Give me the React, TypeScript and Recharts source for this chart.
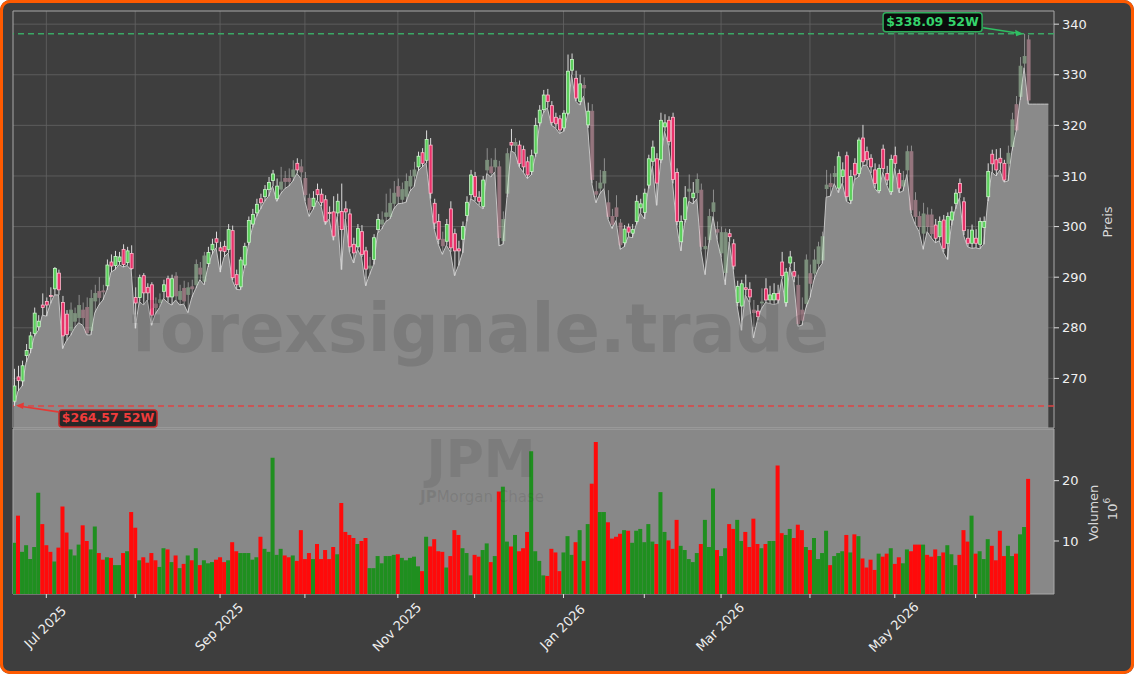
import React from 'react';
import {
  ComposedChart, Bar, Area, XAxis, YAxis, CartesianGrid,
  ReferenceLine, ReferenceArea, ReferenceDot, Cell,
} from 'recharts';

// ---- data (trading-day index 0 = 18 Jun 2025) ----
const openP = [
  265.5,270.3,269.5,274.5,275.9,278.9,280.2,284.5,285.2,286.4,
  287.7,290.8,285.0,282.7,279.5,281.3,282.0,283.5,284.0,279.5,
  285.3,287.2,287.3,288.3,293.0,292.3,293.1,295.5,292.9,294.7,
  286.0,286.0,290.3,288.0,288.5,284.7,285.0,287.2,289.7,286.1,
  290.2,285.6,287.8,286.6,288.1,288.5,291.8,289.2,292.7,295.4,
  297.6,295.8,296.1,295.5,299.2,290.5,288.1,292.4,296.9,300.5,
  302.7,305.5,305.9,307.3,309.1,305.5,307.4,309.5,309.5,309.9,
  312.5,311.8,309.5,305.6,304.0,307.3,306.4,305.3,302.8,302.9,
  302.7,303.0,303.5,302.5,296.5,296.0,299.0,295.2,291.8,293.5,
  299.4,300.5,302.0,302.0,304.6,307.9,305.4,306.0,308.0,310.0,
  311.8,314.6,313.1,316.1,304.6,301.0,297.5,297.1,303.5,298.6,
  295.6,297.5,302.2,306.3,309.9,305.8,304.0,311.2,311.8,311.8,
  311.8,297.2,306.6,316.6,316.0,316.1,315.2,312.8,310.9,314.5,
  320.5,323.1,326.0,323.9,321.6,321.3,319.5,322.4,330.9,329.3,
  324.7,327.9,320.1,322.8,306.9,307.6,308.6,304.7,302.0,303.7,
  300.7,296.8,299.9,298.7,301.0,303.7,302.8,308.2,312.9,313.4,
  313.2,319.7,321.0,321.6,310.7,297.0,301.4,307.0,305.7,306.7,
  307.2,295.6,297.4,303.0,299.4,294.8,290.9,298.6,296.6,285.0,
  284.3,287.9,287.6,283.5,283.3,284.9,287.7,285.5,285.5,286.8,
  293.0,285.0,292.8,291.1,288.4,283.5,284.8,290.7,290.8,292.7,
  293.4,307.5,308.5,309.9,307.6,309.9,314.0,305.2,312.5,310.5,
  317.5,314.8,313.5,311.2,307.1,315.3,310.5,306.9,314.0,310.5,
  308.0,311.2,314.8,305.2,302.0,298.7,302.3,302.3,300.3,298.0,
  301.3,296.7,301.3,304.6,308.5,304.9,297.7,296.7,297.7,296.5,
  299.8,305.9,314.3,313.2,313.5,312.5,312.5,315.8,324.1,325.7,
  332.3,336.9,
];
const highP = [
  271.9,272.5,273.5,276.8,279.2,284.0,282.5,286.8,286.0,288.0,
  292.0,291.5,286.3,283.5,285.0,284.0,286.5,285.0,286.0,287.5,
  288.5,290.0,288.5,293.5,294.5,295.2,295.0,296.5,296.0,296.3,
  288.0,290.5,290.8,288.8,289.0,286.0,286.8,289.5,290.3,290.5,
  291.0,288.5,289.3,289.0,289.5,293.5,293.0,295.0,296.0,297.6,
  299.0,297.0,297.2,300.5,300.2,291.5,294.0,296.8,302.0,303.5,
  305.5,306.5,308.2,309.8,311.2,309.5,311.8,311.0,311.5,313.1,
  313.5,313.3,310.8,306.5,307.0,308.5,307.5,306.2,304.0,306.0,
  306.5,308.5,305.0,303.5,297.8,300.5,300.3,296.0,294.0,298.5,
  302.5,303.0,306.5,307.5,309.0,309.5,308.7,310.5,311.2,312.8,
  314.8,315.5,319.0,317.5,305.5,302.5,299.0,301.5,305.0,299.6,
  297.2,301.0,306.0,311.2,310.8,307.0,310.0,315.5,313.5,315.5,
  313.0,303.0,315.5,319.3,317.5,317.0,316.0,313.8,315.2,321.5,
  324.0,327.0,327.2,324.8,322.5,322.0,323.0,334.0,334.2,330.8,
  330.0,329.5,324.5,324.2,309.0,311.2,313.5,307.2,303.5,306.2,
  301.5,300.3,300.6,300.5,306.2,305.5,307.5,314.2,317.0,314.5,
  322.5,322.2,321.8,322.5,311.5,302.2,308.0,310.3,308.8,310.5,
  308.5,298.0,303.5,307.3,301.0,300.0,299.6,299.5,297.5,289.3,
  289.5,290.5,289.0,285.5,284.5,287.8,289.8,288.3,288.8,288.5,
  295.0,291.8,295.2,293.0,290.5,286.0,294.5,292.5,295.5,297.0,
  299.0,311.2,310.5,312.0,314.8,312.7,314.8,311.2,313.5,317.6,
  320.1,315.8,314.3,312.5,312.3,316.2,312.0,314.2,315.8,311.3,
  311.0,316.0,316.0,306.8,303.0,304.7,303.8,303.5,301.5,302.0,
  302.3,302.8,304.0,307.4,309.5,305.8,299.5,300.4,299.5,301.8,
  302.0,312.5,315.2,315.3,315.5,313.2,316.0,322.5,325.8,333.5,
  338.09,337.9,
];
const lowP = [
  264.57,267.5,268.5,273.2,275.0,278.3,279.5,282.5,282.3,284.8,
  286.5,286.5,275.9,277.5,278.5,280.0,281.0,280.5,278.6,278.6,
  283.0,284.5,285.5,287.5,291.0,291.5,292.5,292.0,292.3,291.4,
  279.9,285.2,284.5,285.5,280.5,282.8,284.0,285.8,285.0,284.5,
  285.5,284.5,284.7,283.0,286.0,287.8,289.5,288.5,292.0,294.5,
  295.8,291.0,294.0,294.8,289.4,287.6,287.5,291.8,296.3,299.8,
  302.0,303.5,305.0,306.0,308.0,305.0,306.5,307.5,308.0,309.0,
  310.5,309.5,305.0,302.0,303.4,305.2,304.0,300.4,301.5,297.3,
  302.0,291.5,301.5,295.0,292.8,295.5,294.0,288.3,290.5,292.5,
  298.8,299.5,301.0,301.5,303.5,304.5,304.6,304.8,307.0,307.9,
  311.0,311.8,312.5,305.5,299.5,296.5,294.5,296.3,295.0,290.3,
  292.3,294.8,301.0,305.5,305.0,304.2,303.5,310.5,309.8,310.8,
  296.2,296.5,305.8,315.0,314.5,311.8,310.8,309.5,310.2,313.8,
  319.8,322.5,323.5,320.0,319.5,318.4,318.8,322.0,330.0,324.8,
  324.0,325.8,319.5,308.5,304.7,306.5,307.5,301.5,299.6,301.2,
  295.5,296.0,298.0,297.8,300.4,302.7,301.5,307.5,312.0,304.2,
  312.5,318.8,316.0,308.5,300.2,295.2,300.8,305.0,304.5,305.5,
  295.4,290.5,296.8,302.0,297.4,294.0,288.5,297.0,291.5,284.2,
  279.5,286.5,285.0,278.0,281.5,283.8,285.0,284.8,284.6,284.8,
  289.6,284.2,292.0,289.0,280.3,280.5,284.0,286.0,289.5,291.5,
  292.7,305.8,306.0,308.5,306.7,308.6,305.0,304.5,309.3,309.8,
  312.0,312.2,310.6,307.6,306.6,310.7,308.2,306.3,311.5,306.7,
  307.0,310.3,302.6,300.5,299.0,295.5,299.0,297.8,296.8,297.2,
  294.9,293.5,300.2,303.5,305.7,298.3,296.0,295.7,295.8,295.6,
  296.5,305.0,310.8,310.0,311.2,308.8,309.0,315.0,318.8,325.0,
  331.4,324.2,
];
const closeP = [
  268.5,269.6,272.5,275.5,278.4,282.9,281.3,284.0,284.5,286.2,
  291.7,287.5,278.4,278.7,283.5,282.8,284.4,282.0,279.0,285.8,
  286.8,286.0,287.1,292.4,292.2,294.1,294.0,292.5,295.2,291.7,
  284.9,289.9,286.9,286.9,282.5,284.0,285.5,288.5,286.1,289.7,
  286.3,287.2,285.3,287.9,287.7,292.5,290.6,294.2,294.9,296.5,
  296.9,295.2,295.1,299.4,289.9,288.5,293.4,296.1,301.2,302.4,
  304.4,304.7,307.3,308.7,310.4,308.0,308.8,308.9,308.9,311.2,
  311.2,310.8,306.3,303.3,305.6,306.3,304.8,301.0,302.6,298.1,
  305.0,299.4,302.9,296.0,294.8,299.6,294.5,291.6,292.2,297.8,
  301.4,301.3,302.7,304.6,306.6,306.0,307.3,308.9,309.9,311.2,
  313.9,312.5,317.2,306.6,300.7,297.5,296.2,300.4,295.8,295.2,
  295.2,300.0,304.8,310.2,305.9,305.0,309.2,313.1,310.6,313.1,
  297.8,301.4,314.4,316.1,316.6,312.5,311.8,310.2,314.0,320.0,
  323.0,326.0,324.7,320.6,320.3,319.1,322.4,330.7,333.0,325.4,
  328.2,327.4,322.8,309.3,306.4,308.6,310.9,302.0,300.4,302.0,
  296.4,299.5,298.9,299.4,305.0,304.5,306.6,313.4,315.7,308.6,
  321.0,320.5,316.8,309.3,301.0,301.0,305.7,307.4,306.6,309.3,
  296.1,296.1,302.0,304.7,298.9,298.8,298.8,298.0,292.2,288.2,
  288.7,287.6,286.1,283.0,282.2,285.1,285.5,286.5,286.8,285.5,
  290.3,291.0,294.0,290.2,280.8,281.5,293.4,288.8,293.4,296.0,
  298.0,308.2,307.9,310.5,313.8,311.2,305.9,309.9,310.2,317.1,
  312.8,313.2,311.8,308.5,311.5,311.5,309.2,313.3,312.5,307.6,
  309.1,314.8,303.3,302.0,300.0,302.5,300.0,298.6,297.7,301.0,
  295.7,302.0,302.9,306.6,306.7,299.2,296.7,299.3,296.7,301.0,
  301.0,310.9,312.4,311.2,312.6,309.2,314.5,321.1,319.1,331.7,
  333.6,325.0,
];
const volume = [
  9.7,14.2,8.2,9.3,7.0,9.0,18.0,12.8,9.3,8.2,
  6.6,8.9,15.7,11.4,8.6,7.6,9.4,12.6,10.0,8.6,
  12.4,8.0,6.9,7.3,7.2,6.0,6.0,8.0,8.3,14.8,
  12.2,6.8,7.3,6.4,8.0,6.8,5.7,8.8,8.6,6.5,
  7.6,5.5,6.2,7.6,6.8,8.8,6.0,6.8,6.3,6.5,
  6.9,7.3,6.5,6.8,9.8,8.3,8.0,8.0,8.0,6.9,
  7.3,10.7,8.7,8.2,23.8,7.7,8.7,7.6,7.3,7.6,
  6.7,11.8,7.0,8.0,7.0,9.5,7.0,8.5,7.0,9.0,
  7.8,16.3,11.5,11.0,10.5,9.5,10.0,10.5,5.5,5.5,
  7.5,6.3,7.5,7.5,7.7,7.8,7.2,6.8,7.2,7.4,
  5.8,5.0,10.7,9.1,10.3,8.3,8.2,5.6,7.5,11.8,
  11.0,8.8,8.0,4.3,7.7,7.4,8.5,9.6,6.5,7.5,
  18.2,19.0,9.9,9.1,11.0,8.3,8.8,11.5,24.9,8.3,
  6.7,4.3,4.2,8.7,8.1,5.0,8.1,10.8,7.7,9.8,
  11.8,6.7,12.8,19.5,26.4,14.8,14.8,13.1,10.4,10.7,
  11.2,11.8,11.7,9.7,11.7,12.0,9.8,12.8,9.9,9.5,
  18.1,11.5,10.1,8.7,13.5,9.2,8.5,7.0,6.5,8.0,
  9.5,13.5,9.0,18.7,8.5,7.5,8.8,12.8,12.0,13.5,
  10.0,11.5,9.0,13.7,9.5,8.8,9.5,10.0,10.0,22.5,
  11.3,11.0,12.0,10.5,12.7,11.8,9.0,8.5,10.5,7.0,
  8.0,11.7,6.0,7.5,8.0,8.3,11.0,8.1,11.1,10.8,
  7.1,5.6,6.9,5.2,7.9,7.4,7.9,8.8,6.2,7.3,
  6.3,8.6,8.3,9.4,9.4,9.4,7.7,7.4,8.6,7.5,
  8.1,9.3,7.8,6.0,7.7,11.8,9.9,14.2,7.9,8.3,
  7.0,10.3,9.2,6.8,11.7,7.5,9.2,7.5,7.9,11.1,
  12.3,20.3,
];
// candles drawn pale in the reference
const faintDays = [
  14,15,16,17,18,19,20,21,22,35,36,40,41,42,43,44,45,46,47,66,67,68,69,71,72,73,88,
  91,92,93,94,95,96,97,98,99,106,117,118,119,120,121,122,124,141,143,144,145,146,147,
  148,149,150,167,169,170,171,172,173,174,175,176,183,185,194,195,196,197,198,199,200,
  201,202,203,220,221,222,223,224,225,226,227,246,247,248,249,250,251,
];
const areaTail = [324.2, 324.2, 324.2, 324.2, 324.2];
const monthTicks = [8, 30, 51, 72, 95, 114, 136, 156, 175, 197, 218, 238];
const monthLabels = ['Jul 2025','Aug 2025','Sep 2025','Oct 2025','Nov 2025','Dec 2025',
  'Jan 2026','Feb 2026','Mar 2026','Apr 2026','May 2026','Jun 2026'];
const priceTicks = [270, 280, 290, 300, 310, 320, 330, 340];
const volumeTicks = [10, 20];
const high52 = 338.09;
const low52 = 264.57;

// ---- derived tables ----
const xDomain: [number, number] = [-0.25, 257.4];
const priceDomain: [number, number] = [260.2, 342.6];
const volDomain: [number, number] = [1.21, 28.57];

const priceRows: any[] = openP.map((o, i) => ({
  i, o, h: highP[i], l: lowP[i], c: closeP[i],
  range: [lowP[i], highP[i]], area: lowP[i], faint: faintDays.includes(i),
}));
areaTail.forEach((v, k) => priceRows.push({ i: openP.length + k, area: v }));
const volRows = volume.map((v, i) => ({ i, v, up: closeP[i] >= openP[i] }));
const hiIdx = highP.indexOf(Math.max(...highP));
const loIdx = lowP.indexOf(Math.min(...lowP));

const FONT = 'DejaVu Sans, Verdana, sans-serif';

const Candle = (props: any) => {
  const { x, y, width, height, payload } = props;
  if (!payload || payload.o == null || !isFinite(x) || !isFinite(y)) return null;
  const { o, h, l, c, faint } = payload;
  const top = Math.min(y, y + height);
  const hpx = Math.abs(height);
  const ppu = hpx / Math.max(h - l, 0.0001);
  const yO = top + (h - o) * ppu;
  const yC = top + (h - c) * ppu;
  const up = c >= o;
  const bTop = Math.min(yO, yC);
  const bH = Math.max(Math.abs(yO - yC), 1);
  const cx = x + width / 2;
  const fill = up ? '#5ccf5c' : '#e8326a';
  const edge = up ? '#c8f5c8' : '#ffb8cb';
  return (
    <g opacity={faint ? 0.45 : 1}>
      <line x1={cx} x2={cx} y1={top} y2={top + hpx} stroke={faint ? '#f0f0f0' : '#dcdcdc'} strokeWidth={1} />
      <rect x={x} y={bTop} width={width} height={bH} fill={faint ? edge : fill} stroke={edge} strokeWidth={0.8} />
    </g>
  );
};

const HighMark = (props: any) => {
  const { cx, cy } = props;
  if (!isFinite(cx)) return null;
  const bx = cx - 141, by = cy - 21;
  return (
    <g>
      <line x1={cx - 41} y1={cy - 6} x2={cx - 7} y2={cy - 0.8} stroke="#2fbf62" strokeWidth={1.6} />
      <polygon points={`${cx - 1},${cy} ${cx - 9},${cy - 4} ${cx - 8},${cy + 2.5}`} fill="#2fbf62" />
      <rect x={bx} y={by} width={99} height={19} rx={3} fill="#050505" fillOpacity={0.9} stroke="#2fae5c" strokeWidth={1.5} />
      <text x={bx + 49.5} y={by + 13.5} textAnchor="middle" fontFamily={FONT} fontWeight="bold" fontSize={12.5} fill="#35d46c">
        {`$${high52.toFixed(2)} 52W`}
      </text>
    </g>
  );
};

const LowMark = (props: any) => {
  const { cx, cy } = props;
  if (!isFinite(cx)) return null;
  const bx = cx + 45, by = cy + 4;
  return (
    <g>
      <line x1={cx + 44} y1={cy + 6} x2={cx + 8} y2={cy + 0.6} stroke="#e53935" strokeWidth={1.6} />
      <polygon points={`${cx + 2},${cy - 0.5} ${cx + 10},${cy - 3.5} ${cx + 9},${cy + 3}`} fill="#e53935" />
      <rect x={bx} y={by} width={98} height={17} rx={3} fill="#1c1c1c" fillOpacity={0.9} stroke="#c62828" strokeWidth={1.5} />
      <text x={bx + 49} y={by + 12.5} textAnchor="middle" fontFamily={FONT} fontWeight="bold" fontSize={12.5} fill="#f03c3c">
        {`$${low52.toFixed(2)} 52W`}
      </text>
    </g>
  );
};

const MonthTick = (props: any) => {
  const { x, y, payload } = props;
  const k = monthTicks.indexOf(payload.value);
  if (k < 0 || k % 2 !== 0) return null;
  const label = monthLabels[k];
  const w = label.length * 7.6;
  const bb = (w + 13) * 0.7071;
  return (
    <text transform={`translate(${x - 1},${y + bb / 2 + 1}) rotate(-45)`} textAnchor="middle"
      dominantBaseline="central" fontFamily={FONT} fontSize={13} fill="#eeeeee">
      {label}
    </text>
  );
};

const yTickStyle = { fill: '#f0f0f0', fontSize: 13, fontFamily: FONT };

export default function App() {
  return (
    <div style={{ position: 'relative', width: 1134, height: 674, background: '#ffffff', fontFamily: FONT }}>
      <style>{`body{margin:0;background:#ffffff}`}</style>
      <div style={{ position: 'absolute', left: 0, top: 0, width: 1134, height: 674, background: '#3e3e3e', borderRadius: 10 }} />
      <div style={{ position: 'absolute', left: 0, top: 0 }}>
        <ComposedChart width={1134} height={430} data={priceRows}
          margin={{ top: 11, right: 20, bottom: 2, left: 13 }}>
          <CartesianGrid fill="#3e3e3e" stroke="#636363" strokeWidth={0.8}
            verticalValues={monthTicks} horizontalValues={priceTicks} />
          <XAxis dataKey="i" type="number" domain={xDomain} allowDataOverflow hide ticks={monthTicks} />
          <YAxis orientation="right" width={60} domain={priceDomain} allowDataOverflow ticks={priceTicks}
            tick={yTickStyle} tickLine={{ stroke: '#dddddd' }} tickSize={5} tickMargin={3} axisLine={false} />
          <Area dataKey="area" type="linear" fill="#8a8a8a" fillOpacity={1} stroke="#c4c4c4" strokeWidth={1}
            isAnimationActive={false} connectNulls />
          <ReferenceLine y={high52} stroke="#3aa865" strokeWidth={1.5} strokeDasharray="6 4" />
          <ReferenceLine y={low52} stroke="#e04444" strokeWidth={1.5} strokeDasharray="6 4" />
          <Bar dataKey="range" barSize={3} shape={<Candle />} isAnimationActive={false} />
          <ReferenceArea x1={xDomain[0]} x2={xDomain[1]} y1={priceDomain[0]} y2={priceDomain[1]}
            fill="none" fillOpacity={0} stroke="#a8a8a8" strokeWidth={1} ifOverflow="visible" />
          <ReferenceDot x={hiIdx} y={high52} ifOverflow="visible" shape={<HighMark />} />
          <ReferenceDot x={loIdx} y={low52} ifOverflow="visible" shape={<LowMark />} />
        </ComposedChart>
      </div>
      <div style={{ position: 'absolute', left: 0, top: 428 }}>
        <ComposedChart width={1134} height={246} data={volRows}
          margin={{ top: 1, right: 20, bottom: 10, left: 13 }}>
          <CartesianGrid fill="#888888" vertical={false} horizontal={false} />
          <XAxis dataKey="i" type="number" domain={xDomain} allowDataOverflow ticks={monthTicks}
            interval={0} height={70} tick={<MonthTick />} tickLine={{ stroke: '#e0e0e0' }} tickSize={4}
            axisLine={false} />
          <YAxis orientation="right" width={60} domain={volDomain} allowDataOverflow ticks={volumeTicks}
            tick={yTickStyle} tickLine={{ stroke: '#dddddd' }} tickSize={5} tickMargin={3} axisLine={false} />
          <Bar dataKey="v" barSize={4} isAnimationActive={false}>
            {volRows.map((r) => (
              <Cell key={r.i} fill={r.up ? '#1f8f1f' : '#ff0a0a'} />
            ))}
          </Bar>
          <ReferenceArea x1={xDomain[0]} x2={xDomain[1]} y1={volDomain[0]} y2={volDomain[1]}
            fill="none" fillOpacity={0} stroke="#a8a8a8" strokeWidth={1} ifOverflow="visible" />
        </ComposedChart>
      </div>
      <svg width={1134} height={674} style={{ position: 'absolute', left: 0, top: 0, pointerEvents: 'none' }}>
        <text x={480} y={352} textAnchor="middle" fontFamily={FONT} fontWeight="bold" fontSize={67}
          fill="#262626" fillOpacity={0.15}>forexsignale.trade</text>
        <text x={481} y={477} textAnchor="middle" fontFamily={FONT} fontWeight="bold" fontSize={52}
          fill="#262626" fillOpacity={0.12}>JPM</text>
        <text x={482} y={502} textAnchor="middle" fontFamily={FONT} fontSize={15}
          fill="#262626" fillOpacity={0.12}><tspan fontWeight="bold">JP</tspan>Morgan Chase</text>
        <text transform="translate(1107,222) rotate(-90)" textAnchor="middle" dominantBaseline="central"
          fontFamily={FONT} fontSize={13} fill="#d8d8d8">Preis</text>
        <text transform="translate(1093,513) rotate(-90)" textAnchor="middle" dominantBaseline="central"
          fontFamily={FONT} fontSize={13} fill="#d8d8d8">Volumen</text>
        <text transform="translate(1112,509) rotate(-90)" textAnchor="middle" dominantBaseline="central"
          fontFamily={FONT} fontSize={13} fill="#d8d8d8">10<tspan dy={-5} fontSize={9}>6</tspan></text>
      </svg>
      <div style={{ position: 'absolute', left: 0, top: 0, width: 1134, height: 674, boxSizing: 'border-box',
        border: '3px solid #ff5a00', borderRadius: 10, pointerEvents: 'none' }} />
    </div>
  );
}
